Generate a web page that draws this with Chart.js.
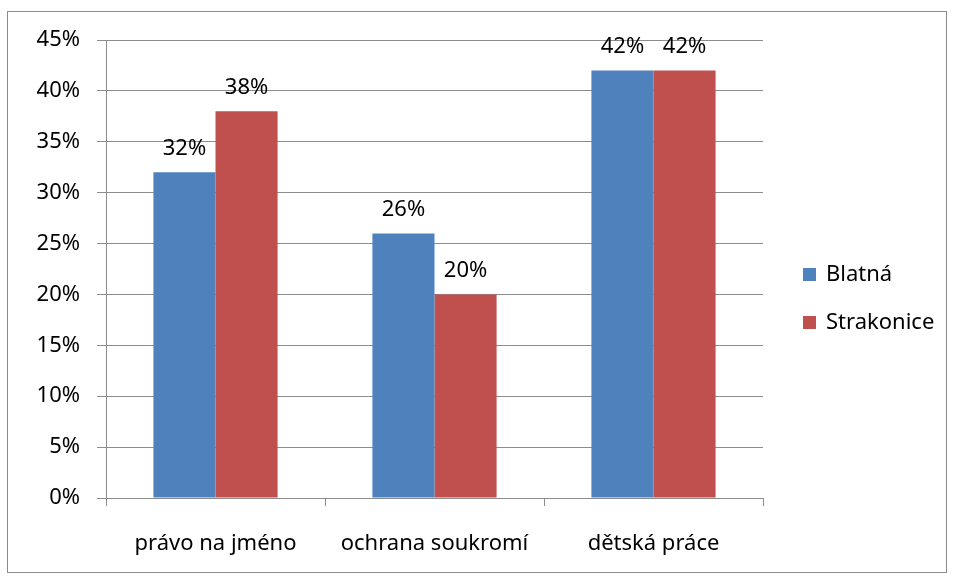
<!DOCTYPE html>
<html lang="cs">
<head>
<meta charset="UTF-8">
<title>Graf</title>
<script src="https://cdn.jsdelivr.net/npm/chart.js"></script>
<style>
  html, body { margin: 0; padding: 0; background: #fff; }
  #wrap { position: relative; width: 953px; height: 578px; }
  #frame { position: absolute; left: 7px; top: 11px; width: 940px; height: 562px; border: 1px solid #8c8c8c; box-sizing: border-box; pointer-events: none; }
</style>
</head>
<body>
<div id="wrap">
  <canvas id="graf" width="953" height="578"></canvas>
  <div id="frame"></div>
</div>
<script>
// data
const kategorie = ['právo na jméno', 'ochrana soukromí', 'dětská práce'];
const blatna = [32, 26, 42];
const strakonice = [38, 20, 42];
const nazvySerii = ['Blatná', 'Strakonice'];
const barvy = ['#4f81bd', '#c0504d'];

const pismo = { family: '"Noto Sans", sans-serif', size: 22 };
const seda = '#8c8c8c';

// popisky nad sloupci
const popisky = {
  id: 'popisky',
  afterDatasetsDraw(chart) {
    const ctx = chart.ctx;
    ctx.save();
    ctx.font = pismo.size + 'px ' + pismo.family;
    ctx.fillStyle = '#000';
    ctx.textAlign = 'center';
    ctx.textBaseline = 'middle';
    chart.data.datasets.forEach((ds, i) => {
      chart.getDatasetMeta(i).data.forEach((bar, j) => {
        ctx.fillText(ds.data[j] + '%', bar.x, bar.y - 24);
      });
    });
    ctx.restore();
  }
};

// legenda vpravo
const legenda = {
  id: 'legenda',
  afterDraw(chart) {
    const ctx = chart.ctx;
    ctx.save();
    ctx.font = pismo.size + 'px ' + pismo.family;
    ctx.textBaseline = 'middle';
    chart.data.datasets.forEach((ds, i) => {
      const y = 275 + i * 48;
      ctx.fillStyle = ds.backgroundColor;
      ctx.fillRect(803, y - 7, 13, 13);
      ctx.fillStyle = '#000';
      ctx.fillText(ds.label, 826, y);
    });
    ctx.restore();
  }
};

new Chart(document.getElementById('graf').getContext('2d'), {
  type: 'bar',
  data: {
    labels: kategorie,
    datasets: [
      { label: nazvySerii[0], data: blatna, backgroundColor: barvy[0] },
      { label: nazvySerii[1], data: strakonice, backgroundColor: barvy[1] }
    ]
  },
  options: {
    responsive: false,
    animation: false,
    layout: { padding: { top: 40, right: 190, bottom: 0, left: 0 } },
    datasets: { bar: { categoryPercentage: 0.567, barPercentage: 1 } },
    plugins: { legend: { display: false }, tooltip: { enabled: false } },
    scales: {
      x: {
        grid: { drawOnChartArea: false, offset: true, color: seda, tickLength: 8 },
        border: { color: seda },
        ticks: { color: '#000', font: pismo, padding: 25, maxRotation: 0 },
        afterFit(s) { s.height = 80; }
      },
      y: {
        min: 0, max: 45,
        grid: { color: seda, tickLength: 9 },
        border: { color: seda },
        ticks: { stepSize: 5, color: '#000', font: pismo, padding: 17, callback: v => v + '%' },
        afterFit(s) { s.width = 106; }
      }
    }
  },
  plugins: [popisky, legenda]
});
</script>
</body>
</html>
